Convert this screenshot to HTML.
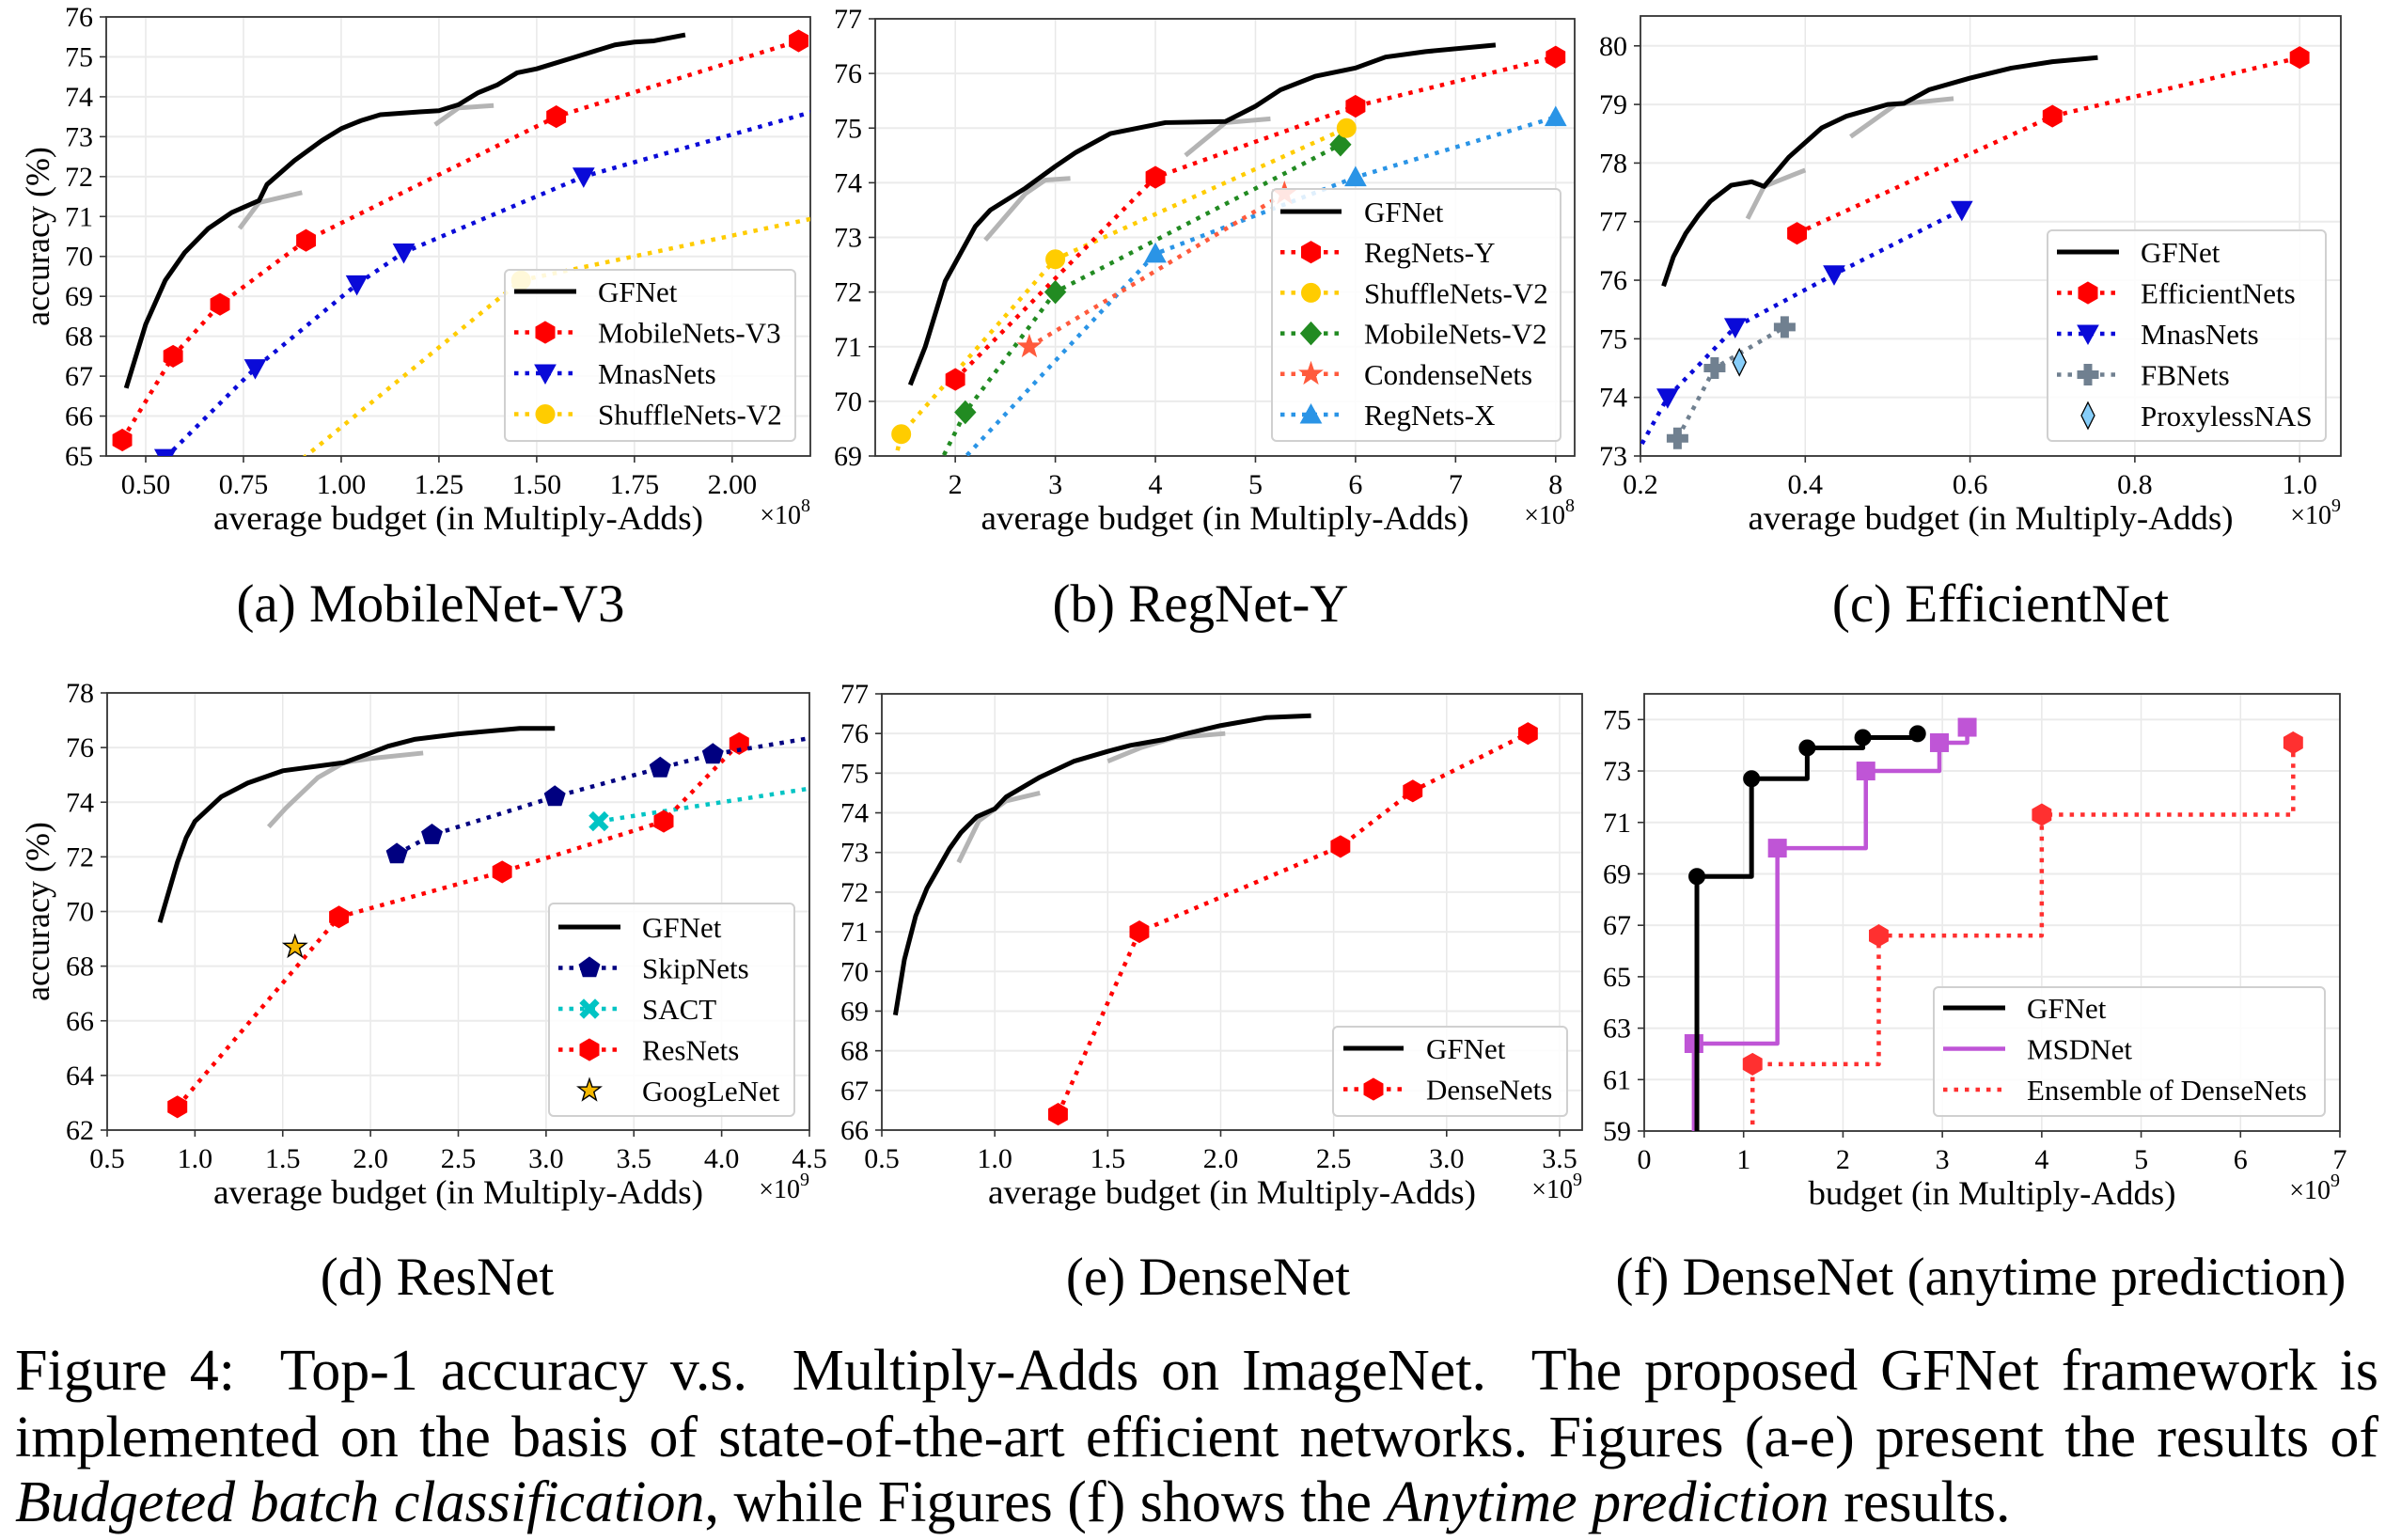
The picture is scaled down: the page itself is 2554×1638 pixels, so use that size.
<!DOCTYPE html>
<html><head><meta charset="utf-8"><style>
html,body{margin:0;padding:0;background:#fff;}
#wrap{position:relative;width:2554px;height:1638px;overflow:hidden;background:#fff;}
svg{position:absolute;left:0;top:0;}
.cap{position:absolute;left:16px;width:2514px;font-family:"Liberation Serif",serif;font-size:62px;line-height:70px;white-space:nowrap;color:#000;}
.j{text-align:justify;text-align-last:justify;white-space:normal;}
</style></head><body>
<div id="wrap">
<svg id="fig" width="2554" height="1638" viewBox="0 0 2554 1638"></svg>
<div class="cap j" style="top:1423px">Figure 4: &nbsp;Top-1 accuracy v.s. &nbsp;Multiply-Adds on ImageNet. &nbsp;The proposed GFNet framework is</div>
<div class="cap j" style="top:1494px">implemented on the basis of state-of-the-art efficient networks. Figures (a-e) present the results of</div>
<div class="cap" style="top:1563px"><i>Budgeted batch classification</i>, while Figures (f) shows the <i>Anytime prediction</i> results.</div>
</div>
<script>
// ===== data (x in units of the axis multiplier, y = accuracy %) =====
// panel a: MobileNet-V3 (x1e8)
const aGfX=[0.45,0.50,0.55,0.60,0.66,0.72,0.79,0.81,0.88,0.95,1.00,1.05,1.10,1.20,1.25,1.30,1.35,1.40,1.45,1.50,1.60,1.70,1.75,1.80,1.88];
const aGfY=[66.7,68.3,69.4,70.1,70.7,71.1,71.4,71.8,72.4,72.9,73.2,73.4,73.55,73.62,73.65,73.8,74.1,74.3,74.6,74.7,75.0,75.3,75.37,75.4,75.55];
const aG1X=[0.74,0.79,0.90], aG1Y=[70.7,71.35,71.6];
const aG2X=[1.24,1.30,1.39], aG2Y=[73.3,73.72,73.78];
const aMbX=[0.44,0.57,0.69,0.91,1.55,2.17], aMbY=[65.4,67.5,68.8,70.4,73.5,75.4];
const aMnX=[0.55,0.78,1.04,1.16,1.62,2.45], aMnY=[64.95,67.2,69.3,70.1,72.0,74.3];
const aShX=[0.41,1.46,3.00], aShY=[61.0,69.4,72.6];
// panel b: RegNet-Y (x1e8)
const bGfX=[1.55,1.70,1.90,2.05,2.20,2.35,2.70,3.00,3.20,3.55,4.10,4.70,5.00,5.25,5.60,6.00,6.30,6.70,7.40];
const bGfY=[70.3,71.0,72.2,72.7,73.2,73.5,73.9,74.3,74.55,74.9,75.1,75.12,75.4,75.7,75.95,76.1,76.3,76.4,76.52];
const bG1X=[2.30,2.70,2.90,3.15], bG1Y=[72.95,73.8,74.05,74.08];
const bG2X=[4.30,4.70,5.15], bG2Y=[74.5,75.1,75.17];
const bRyX=[2.0,4.0,6.0,8.0], bRyY=[70.4,74.1,75.4,76.3];
const bShX=[0.41,1.46,3.0,5.91], bShY=[61.0,69.4,72.6,75.0];
const bMvX=[1.5,2.1,3.0,5.85], bMvY=[67.6,69.8,72.0,74.7];
const bCnX=[2.74,5.29], bCnY=[71.0,73.8];
const bRxX=[1.6,4.0,6.0,8.0], bRxY=[68.0,72.7,74.1,75.2];
// panel c: EfficientNet (x1e9)
const cGfX=[0.228,0.24,0.255,0.27,0.285,0.31,0.335,0.35,0.38,0.42,0.45,0.50,0.52,0.55,0.60,0.65,0.70,0.755];
const cGfY=[75.9,76.4,76.8,77.1,77.35,77.62,77.68,77.6,78.1,78.6,78.8,79.0,79.02,79.25,79.45,79.62,79.73,79.8];
const cG1X=[0.33,0.35,0.40], cG1Y=[77.05,77.6,77.88];
const cG2X=[0.455,0.48,0.51,0.58], cG2Y=[78.45,78.7,79.0,79.1];
const cEfX=[0.39,0.70,1.0], cEfY=[76.8,78.8,79.8];
const cMnX=[0.17,0.233,0.315,0.435,0.59], cMnY=[72.4,74.0,75.2,76.1,77.2];
const cFbX=[0.245,0.29,0.375], cFbY=[73.3,74.5,75.2];
const cPxX=[0.32], cPxY=[74.6];
// panel d: ResNet (x1e9)
const dGfX=[0.80,0.90,0.95,1.00,1.15,1.30,1.50,1.85,2.00,2.10,2.25,2.50,2.85,3.05];
const dGfY=[69.6,71.8,72.7,73.3,74.2,74.7,75.15,75.45,75.8,76.05,76.3,76.5,76.7,76.7];
const dG1X=[1.42,1.52,1.70,1.85,2.00,2.30], dG1Y=[73.1,73.8,74.9,75.45,75.6,75.8];
const dSkX=[2.15,2.35,3.05,3.65,3.95,4.60], dSkY=[72.1,72.8,74.2,75.25,75.75,76.45];
const dSaX=[3.3,5.0], dSaY=[73.3,75.0];
const dRsX=[0.9,1.82,2.75,3.67,4.1], dRsY=[62.85,69.8,71.45,73.3,76.15];
const dGoX=[1.57], dGoY=[68.7];
// panel e: DenseNet (x1e9)
const eGfX=[0.56,0.60,0.65,0.70,0.75,0.80,0.85,0.92,1.00,1.05,1.20,1.35,1.50,1.60,1.75,1.85,2.00,2.20,2.40];
const eGfY=[68.9,70.3,71.4,72.1,72.6,73.1,73.5,73.9,74.1,74.4,74.9,75.3,75.55,75.7,75.85,76.0,76.2,76.4,76.45];
const eG1X=[0.84,0.93,1.05,1.20], eG1Y=[72.75,73.8,74.3,74.5];
const eG2X=[1.50,1.65,1.80,2.02], eG2Y=[75.3,75.65,75.9,76.0];
const eDnX=[1.28,1.64,2.53,2.85,3.36], eDnY=[66.4,71.0,73.15,74.55,76.0];
// panel f: anytime (x1e9)
const fGfX=[0.53,0.53,1.08,1.64,2.2,2.75], fGfY=[50,68.9,72.7,73.9,74.3,74.45];
const fMsX=[0.5,0.5,1.34,2.23,2.97,3.25], fMsY=[50,62.4,70.0,73.0,74.1,74.7];
const fEnX=[1.09,1.09,2.36,4.0,6.53], fEnY=[50,61.6,66.6,71.3,74.1];
// ticks
const aXT=[0.5,0.75,1.0,1.25,1.5,1.75,2.0], aXL=["0.50","0.75","1.00","1.25","1.50","1.75","2.00"];
const aYT=[65,66,67,68,69,70,71,72,73,74,75,76];
const bXT=[2,3,4,5,6,7,8], bYT=[69,70,71,72,73,74,75,76,77];
const cXT=[0.2,0.4,0.6,0.8,1.0], cXL=["0.2","0.4","0.6","0.8","1.0"], cYT=[73,74,75,76,77,78,79,80];
const dXT=[0.5,1,1.5,2,2.5,3,3.5,4,4.5], dXL=["0.5","1.0","1.5","2.0","2.5","3.0","3.5","4.0","4.5"], dYT=[62,64,66,68,70,72,74,76,78];
const eXT=[0.5,1,1.5,2,2.5,3,3.5], eXL=["0.5","1.0","1.5","2.0","2.5","3.0","3.5"], eYT=[66,67,68,69,70,71,72,73,74,75,76,77];
const fXT=[0,1,2,3,4,5,6,7], fYT=[59,61,63,65,67,69,71,73,75];

const NS="http://www.w3.org/2000/svg";
const svg=document.getElementById('fig');
const FONT='"Liberation Serif", serif';
function el(tag,attrs,parent){const e=document.createElementNS(NS,tag);for(const k in attrs)e.setAttribute(k,attrs[k]);(parent||svg).appendChild(e);return e;}
function txt(s,attrs,parent){const e=el('text',attrs,parent);e.textContent=s;return e;}

let clipId=0;
function panel(cfg){
  const g=el('g',{});
  
  
  const sx=v=>cfg.px0+(v-cfg.xmin)/(cfg.xmax-cfg.xmin)*(cfg.px1-cfg.px0);
  const sy=v=>cfg.py1-(v-cfg.ymin)/(cfg.ymax-cfg.ymin)*(cfg.py1-cfg.py0);
  const id='clip'+(clipId++);
  const cp=el('clipPath',{id:id},g);
  el('rect',{x:cfg.px0,y:cfg.py0,width:cfg.px1-cfg.px0,height:cfg.py1-cfg.py0},cp);
  cfg.xt.forEach(v=>{const l=el('line',{x1:sx(v),x2:sx(v),y1:cfg.py0,y2:cfg.py1,stroke:'#e8e8e8','stroke-width':1.5},g);
    
    });
  cfg.yt.forEach(v=>{const l=el('line',{x1:cfg.px0,x2:cfg.px1,y1:sy(v),y2:sy(v),stroke:'#ebebeb','stroke-width':2},g);
    
    });
  cfg.xt.forEach((v,i)=>{el('line',{x1:sx(v),x2:sx(v),y1:cfg.py1,y2:cfg.py1+7,stroke:'#333','stroke-width':1.6},g);
    const t=txt(cfg.xl?cfg.xl[i]:String(v),{x:sx(v),y:cfg.py1+40,'text-anchor':'middle','font-family':FONT,'font-size':30},g);
    
    });
  cfg.yt.forEach(v=>{el('line',{x1:cfg.px0-7,x2:cfg.px0,y1:sy(v),y2:sy(v),stroke:'#333','stroke-width':1.6},g);
    const t=txt(String(v),{x:cfg.px0-14,y:sy(v)+10,'text-anchor':'end','font-family':FONT,'font-size':30},g);
    
    });
  const fr=el('rect',{x:cfg.px0,y:cfg.py0,width:cfg.px1-cfg.px0,height:cfg.py1-cfg.py0,fill:'none',stroke:'#333','stroke-width':1.8},g);
  
  
  const cx=(cfg.px0+cfg.px1)/2;
  const xl=txt(cfg.xlabel,{x:cx,y:cfg.py1+78,'text-anchor':'middle','font-family':FONT,'font-size':36,textLength:cfg.xlw,lengthAdjust:'spacingAndGlyphs'},g);
  
  
  const mt=el('text',{x:cfg.px1,y:cfg.py1+72,'text-anchor':'end','font-family':FONT,'font-size':28},g);
  mt.innerHTML='×10<tspan dy="-13" font-size="20">'+cfg.exp+'</tspan>';
  
  
  if(cfg.ylabel){
    const cy=(cfg.py0+cfg.py1)/2;
    const yl=txt('accuracy (%)',{x:52,y:cy,transform:'rotate(-90 52 '+cy+')','text-anchor':'middle','font-family':FONT,'font-size':36},g);
    
    
  }
  const st=txt(cfg.sub,{x:cfg.subx,y:cfg.suby,'text-anchor':'middle','font-family':FONT,'font-size':57},g);
  
  
  const plot=el('g',{'clip-path':'url(#'+id+')'},g);
  return {g,plot,sx,sy};
}

function markerShape(type,x,y,fill,parent,stroke){
  let e; const P=pts=>pts.map(p=>(x+p[0]).toFixed(1)+','+(y+p[1]).toFixed(1)).join(' ');
  const poly=(n,r,rot)=>{const a=[];for(let k=0;k<n;k++){const t=rot+k*2*Math.PI/n;a.push([r*Math.cos(t),r*Math.sin(t)]);}return a;};
  const st=stroke||fill;
  if(type==='h') e=el('polygon',{points:P(poly(6,11.5,-Math.PI/2)),fill:fill,stroke:st,'stroke-width':1},parent);
  else if(type==='o') e=el('circle',{cx:x,cy:y,r:10,fill:fill,stroke:st,'stroke-width':1},parent);
  else if(type==='sm') e=el('circle',{cx:x,cy:y,r:8.5,fill:fill,stroke:st,'stroke-width':1},parent);
  else if(type==='v') e=el('polygon',{points:P([[-11,-9],[11,-9],[0,11]]),fill:fill,stroke:st,'stroke-width':1},parent);
  else if(type==='^') e=el('polygon',{points:P([[-11,9],[11,9],[0,-11]]),fill:fill,stroke:st,'stroke-width':1},parent);
  else if(type==='D') e=el('polygon',{points:P([[0,-12],[11,0],[0,12],[-11,0]]),fill:fill,stroke:st,'stroke-width':1},parent);
  else if(type==='d') e=el('polygon',{points:P([[0,-14],[7,0],[0,14],[-7,0]]),fill:fill,stroke:'#000','stroke-width':1.3},parent);
  else if(type==='p') e=el('polygon',{points:P(poly(5,11.5,-Math.PI/2)),fill:fill,stroke:st,'stroke-width':1},parent);
  else if(type==='s') e=el('rect',{x:x-9.5,y:y-9.5,width:19,height:19,fill:fill,stroke:st,'stroke-width':1},parent);
  else if(type==='*'||type==='*k'){const a=[];for(let k=0;k<10;k++){const r=k%2?5:12.5;const t=-Math.PI/2+k*Math.PI/5;a.push([r*Math.cos(t),r*Math.sin(t)]);}
    e=el('polygon',{points:P(a),fill:fill,stroke:type==='*k'?'#000':st,'stroke-width':type==='*k'?1.4:1},parent);}
  else if(type==='X'){const a=[[-10,-6],[-6,-10],[0,-4],[6,-10],[10,-6],[4,0],[10,6],[6,10],[0,4],[-6,10],[-10,6],[-4,0]];e=el('polygon',{points:P(a),fill:fill,stroke:st,'stroke-width':1},parent);}
  else if(type==='P'){const a=[[-4,-11],[4,-11],[4,-4],[11,-4],[11,4],[4,4],[4,11],[-4,11],[-4,4],[-11,4],[-11,-4],[-4,-4]];e=el('polygon',{points:P(a),fill:fill,stroke:st,'stroke-width':1},parent);}
  return e;
}

function series(p,xs,ys,opt){
  const g=el('g',{},p.plot);
  let d='';
  if(opt.line!=='none'){
    xs.forEach((v,i)=>{const X=p.sx(v),Y=p.sy(ys[i]);
      if(i===0) d+='M'+X+' '+Y; else if(opt.step) d+=' H'+X+' V'+Y; else d+=' L'+X+' '+Y;});
    const a={d:d,fill:'none',stroke:opt.color,'stroke-width':opt.w||4.5,'stroke-linejoin':'round'};
    if(opt.dot) {a['stroke-dasharray']='4.5 7';}
    const path=el('path',a,g);
    
    
  }
  if(opt.m){xs.forEach((v,i)=>{const mm=markerShape(opt.m,p.sx(v),p.sy(ys[i]),opt.mc||opt.color,g,opt.ms);
    
    });}
  
  
}

function legend(x,y,w,h,items,first,gap,lx0,lx1,tx){
  const g=el('g',{});
  
  
  el('rect',{x:x,y:y,width:w,height:h,rx:5,fill:'#fff','fill-opacity':0.85,stroke:'#d0d0d0','stroke-width':2},g);
  items.forEach((it,i)=>{
    const cy=y+first+i*gap;
    const eg=el('g',{},g);
    
    
    if(it.line!=='none'){const a={x1:x+lx0,x2:x+lx1,y1:cy,y2:cy,stroke:it.color,'stroke-width':it.w||4.5};
      if(it.dot)a['stroke-dasharray']='4.5 7'; el('line',a,eg);}
    if(it.m) markerShape(it.m,x+(lx0+lx1)/2,cy,it.mc||it.color,eg,it.ms);
    txt(it.label,{x:x+tx,y:cy+11,'font-family':FONT,'font-size':31},eg);
  });
}

const RED='#ff0000',BLUE='#0a0ad8',GOLD='#ffcc00',GREEN='#228b22',TOM='#ff5a3c',SKY='#2a94e6',NAVY='#000080',CYAN='#00c4c4',SLATE='#708090',LSKY='#87cefa',ORCH='#bf55d6',GRAY='#b4b4b4';
const XL='average budget (in Multiply-Adds)';

let p=panel({name:'panel-a-mobilenet-v3',px0:113,px1:862,py0:18,py1:485,xmin:0.399,xmax:2.2,ymin:65,ymax:76,xt:aXT,xl:aXL,yt:aYT,xlabel:XL,xlw:521,exp:'8',ylabel:true,sub:'(a) MobileNet-V3',subx:458,suby:661});
series(p,aShX,aShY,{name:'shufflenets-v2',color:GOLD,dot:true,m:'o'});
series(p,aMnX,aMnY,{name:'mnasnets',color:BLUE,dot:true,m:'v'});
series(p,aMbX,aMbY,{name:'mobilenets-v3',color:RED,dot:true,m:'h'});
series(p,aG1X,aG1Y,{name:'gfnet-stage-1',color:GRAY,w:5});
series(p,aG2X,aG2Y,{name:'gfnet-stage-2',color:GRAY,w:5});
series(p,aGfX,aGfY,{name:'gfnet',color:'#000',w:5});
legend(537,287,309,182,[{label:'GFNet',color:'#000',w:5},{label:'MobileNets-V3',color:RED,dot:true,m:'h'},{label:'MnasNets',color:BLUE,dot:true,m:'v'},{label:'ShuffleNets-V2',color:GOLD,dot:true,m:'o'}],23,43.5,10,76,99);

p=panel({name:'panel-b-regnet-y',px0:931,px1:1675,py0:20,py1:485,xmin:1.2,xmax:8.19,ymin:69,ymax:77,xt:bXT,yt:bYT,xlabel:XL,xlw:519,exp:'8',sub:'(b) RegNet-Y',subx:1277,suby:661});
series(p,bRxX,bRxY,{name:'regnets-x',color:SKY,dot:true,m:'^'});
series(p,bCnX,bCnY,{name:'condensenets',color:TOM,dot:true,m:'*'});
series(p,bMvX,bMvY,{name:'mobilenets-v2',color:GREEN,dot:true,m:'D'});
series(p,bShX,bShY,{name:'shufflenets-v2',color:GOLD,dot:true,m:'o'});
series(p,bRyX,bRyY,{name:'regnets-y',color:RED,dot:true,m:'h'});
series(p,bG1X,bG1Y,{name:'gfnet-stage-1',color:GRAY,w:5});
series(p,bG2X,bG2Y,{name:'gfnet-stage-2',color:GRAY,w:5});
series(p,bGfX,bGfY,{name:'gfnet',color:'#000',w:5});
legend(1353,201,307,268,[{label:'GFNet',color:'#000',w:5},{label:'RegNets-Y',color:RED,dot:true,m:'h'},{label:'ShuffleNets-V2',color:GOLD,dot:true,m:'o'},{label:'MobileNets-V2',color:GREEN,dot:true,m:'D'},{label:'CondenseNets',color:TOM,dot:true,m:'*'},{label:'RegNets-X',color:SKY,dot:true,m:'^'}],24,43.2,9,74,98);

p=panel({name:'panel-c-efficientnet',px0:1745,px1:2490,py0:17,py1:485,xmin:0.2,xmax:1.05,ymin:73,ymax:80.51,xt:cXT,xl:cXL,yt:cYT,xlabel:XL,xlw:516,exp:'9',sub:'(c) EfficientNet',subx:2128,suby:661});
series(p,cFbX,cFbY,{name:'fbnets',color:SLATE,dot:true,m:'P'});
series(p,cMnX,cMnY,{name:'mnasnets',color:BLUE,dot:true,m:'v'});
series(p,cEfX,cEfY,{name:'efficientnets',color:RED,dot:true,m:'h'});
series(p,cPxX,cPxY,{name:'proxylessnas',color:LSKY,line:'none',m:'d'});
series(p,cG1X,cG1Y,{name:'gfnet-stage-1',color:GRAY,w:5});
series(p,cG2X,cG2Y,{name:'gfnet-stage-2',color:GRAY,w:5});
series(p,cGfX,cGfY,{name:'gfnet',color:'#000',w:5});
legend(2178,245,296,224,[{label:'GFNet',color:'#000',w:5},{label:'EfficientNets',color:RED,dot:true,m:'h'},{label:'MnasNets',color:BLUE,dot:true,m:'v'},{label:'FBNets',color:SLATE,dot:true,m:'P'},{label:'ProxylessNAS',color:LSKY,line:'none',m:'d'}],23,43.5,10,76,99);

p=panel({name:'panel-d-resnet',px0:114,px1:861,py0:737,py1:1202,xmin:0.5,xmax:4.5,ymin:62,ymax:78,xt:dXT,xl:dXL,yt:dYT,xlabel:XL,xlw:521,exp:'9',ylabel:true,sub:'(d) ResNet',subx:465,suby:1377});
series(p,dSaX,dSaY,{name:'sact',color:CYAN,dot:true,m:'X'});
series(p,dRsX,dRsY,{name:'resnets',color:RED,dot:true,m:'h'});
series(p,dSkX,dSkY,{name:'skipnets',color:NAVY,dot:true,m:'p'});
series(p,dGoX,dGoY,{name:'googlenet',color:'#f5b800',line:'none',m:'*k'});
series(p,dG1X,dG1Y,{name:'gfnet-stage-1',color:GRAY,w:5});
series(p,dGfX,dGfY,{name:'gfnet',color:'#000',w:5});
legend(584,961,261,226,[{label:'GFNet',color:'#000',w:5},{label:'SkipNets',color:NAVY,dot:true,m:'p'},{label:'SACT',color:CYAN,dot:true,m:'X'},{label:'ResNets',color:RED,dot:true,m:'h'},{label:'GoogLeNet',color:'#f5b800',line:'none',m:'*k'}],25,43.5,10,76,99);

p=panel({name:'panel-e-densenet',px0:938,px1:1683,py0:738,py1:1202,xmin:0.5,xmax:3.6,ymin:66,ymax:77,xt:eXT,xl:eXL,yt:eYT,xlabel:XL,xlw:519,exp:'9',sub:'(e) DenseNet',subx:1285,suby:1377});
series(p,eDnX,eDnY,{name:'densenets',color:RED,dot:true,m:'h'});
series(p,eG1X,eG1Y,{name:'gfnet-stage-1',color:GRAY,w:5});
series(p,eG2X,eG2Y,{name:'gfnet-stage-2',color:GRAY,w:5});
series(p,eGfX,eGfY,{name:'gfnet',color:'#000',w:5});
legend(1418,1092,249,95,[{label:'GFNet',color:'#000',w:5},{label:'DenseNets',color:RED,dot:true,m:'h'}],23,43.5,11,75,99);

p=panel({name:'panel-f-anytime',px0:1749,px1:2489,py0:738,py1:1203,xmin:0,xmax:7,ymin:59,ymax:76,xt:fXT,yt:fYT,xlabel:'budget (in Multiply-Adds)',xlw:391,exp:'9',sub:'(f) DenseNet (anytime prediction)',subx:2107,suby:1377});
series(p,fEnX,fEnY,{name:'ensemble-densenets',color:'#ff3030',dot:true,step:true,m:'h'});
series(p,fMsX,fMsY,{name:'msdnet',color:ORCH,w:4.5,step:true,m:'s'});
series(p,fGfX,fGfY,{name:'gfnet',color:'#000',w:5,step:true,m:'sm'});
legend(2057,1050,416,137,[{label:'GFNet',color:'#000',w:5},{label:'MSDNet',color:ORCH},{label:'Ensemble of DenseNets',color:'#ff3030',dot:true}],22,43.5,10,76,99);
</script>
</body></html>
